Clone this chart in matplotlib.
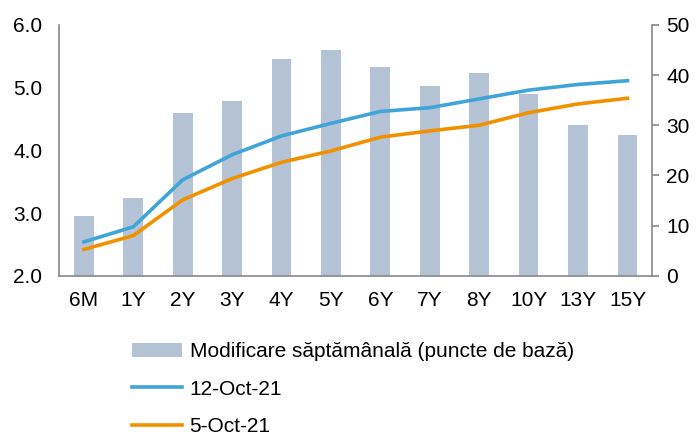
import matplotlib.pyplot as plt
import numpy as np

plt.rcParams['font.family'] = ['Liberation Sans', 'DejaVu Sans']

# data
tenors = ["6M", "1Y", "2Y", "3Y", "4Y", "5Y", "6Y", "7Y", "8Y", "10Y", "13Y", "15Y"]
weekly_change = [11.9, 15.5, 32.4, 34.8, 43.2, 45.0, 41.7, 37.8, 40.4, 36.2, 30.1, 28.1]
yield_12oct = [2.54, 2.78, 3.53, 3.93, 4.23, 4.43, 4.62, 4.68, 4.82, 4.96, 5.05, 5.11]
yield_5oct = [2.42, 2.64, 3.21, 3.55, 3.81, 3.99, 4.21, 4.31, 4.40, 4.60, 4.74, 4.83]

bar_color = "#b4c3d6"
blue = "#3fa5d9"
orange = "#f29100"
grey = "#888888"

fig = plt.figure(figsize=(6.96, 4.37), dpi=100)
ax = fig.add_axes([0.085, 0.369, 0.852, 0.574])
ax2 = ax.twinx()

x = np.arange(len(tenors))

# bars on the right axis, lines on the left axis
bars = ax2.bar(x, weekly_change, width=0.4, color=bar_color, zorder=1,
               label="Modificare săptămânală (puncte de bază)")
ax.set_zorder(ax2.get_zorder() + 1)
ax.patch.set_visible(False)
l1, = ax.plot(x, yield_12oct, color=blue, lw=2.6, label="12-Oct-21")
l2, = ax.plot(x, yield_5oct, color=orange, lw=2.6, label="5-Oct-21")

ax.set_xlim(-0.5, len(tenors) - 0.5)
ax.set_ylim(2.0, 6.0)
ax.set_yticks([2.0, 3.0, 4.0, 5.0, 6.0])
ax.set_yticklabels([f"{v:.1f}" for v in [2, 3, 4, 5, 6]])
ax2.set_ylim(0, 50)
ax2.set_yticks([0, 10, 20, 30, 40, 50])

ax.set_xticks(x)
ax.set_xticklabels(tenors)

for a in (ax, ax2):
    a.spines["top"].set_visible(False)
    for s in ("left", "right", "bottom"):
        a.spines[s].set_color(grey)
        a.spines[s].set_linewidth(1.2)
ax.spines["right"].set_visible(False)
ax2.spines["left"].set_visible(False)
ax2.spines["bottom"].set_visible(False)

ax.tick_params(axis="both", length=0, labelsize=15)
ax.tick_params(axis="y", pad=12)
ax.tick_params(axis="x", pad=11)
ax2.tick_params(axis="y", length=5, color=grey, width=1.2, labelsize=15, pad=5)

fig.legend(handles=[bars, l1, l2], loc="upper left", bbox_to_anchor=(0.178, 0.236),
           frameon=False, fontsize=15, handlelength=2.4, handletextpad=0.35,
           labelspacing=0.88, borderaxespad=0)

fig.savefig("out.png", dpi=100)
